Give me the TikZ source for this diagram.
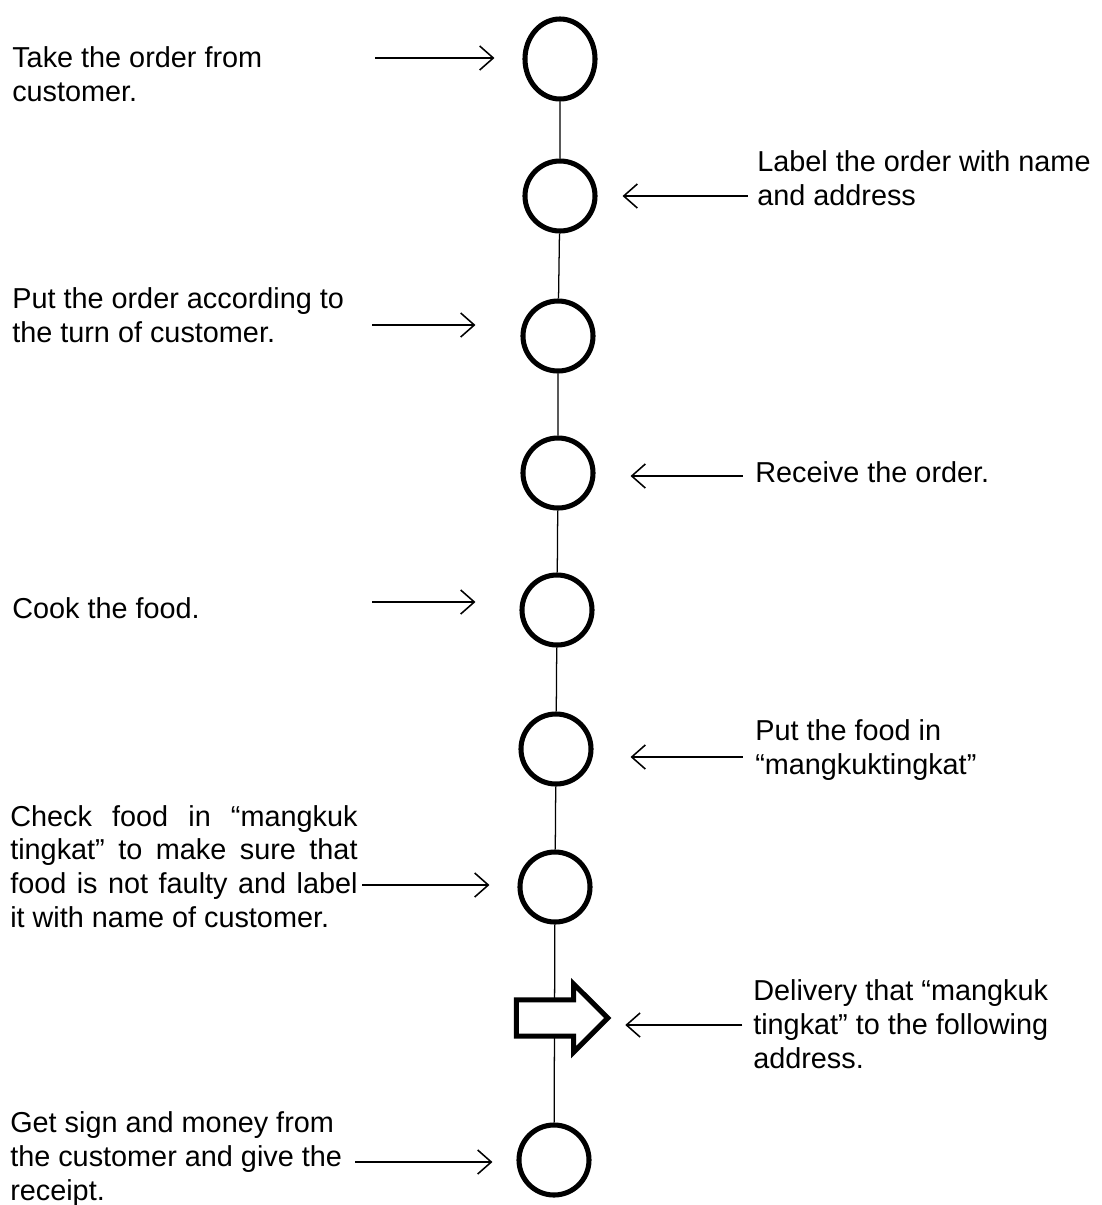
\documentclass[tikz,border=0pt]{standalone}
\usepackage{fontspec}
\setmainfont{Liberation Sans}
\usetikzlibrary{arrows.meta,shapes.geometric,shapes.arrows}
\tikzset{
  stop_/.style = {shape=ellipse, draw, line width=3.6pt, minimum width=1.75cm,
                  minimum height=1.75cm, inner sep=0pt},
  note_/.style = {anchor=base west, align=left, inner sep=0pt,
                  font=\fontsize{20.5}{24}\selectfont},
  flow_/.style = {draw, line width=1.1pt, -{Straight Barb[length=3.4mm,width=6mm]}}
}

\begin{document}
\begin{tikzpicture}
  [
    x           = 0.025cm,
    y           = -0.025cm,
    link_/.style = {draw, line width=0.9pt}
  ]
  \useasboundingbox (0,0) rectangle (1102,1205);

  % the steps
  \node [stop_, minimum height=2cm] (c1) at (560,59)   {};
  \node [stop_] (c2) at (560,196)  {};
  \node [stop_] (c3) at (558,336)  {};
  \node [stop_] (c4) at (558,473)  {};
  \node [stop_] (c5) at (557,610)  {};
  \node [stop_] (c6) at (556,749)  {};
  \node [stop_] (c7) at (555,887)  {};
  \node [stop_] (c9) at (554,1160) {};
  \draw [link_] (c1) -- (c2) -- (c3) -- (c4) -- (c5) -- (c6) -- (c7) -- (c9);
  \node [single arrow, draw, fill=white, line width=3.6pt, minimum height=2.28cm,
         minimum width=1.58cm, single arrow head extend=0.4cm,
         single arrow head indent=0pt, inner xsep=0pt, inner ysep=0.39cm] (del) at (553,1018) {};

  % left side
  \node [note_] (t1) at (12,101)  {Take the order from\\customer.};
  \node [note_] (t3) at (12,342)  {Put the order according to\\the turn of customer.};
  \node [note_] (t5) at (12,618)  {Cook the food.};
  \node [note_, text width=8.68cm, align=justify] (t7) at (10,826)
    {Check food in “mangkuk\linebreak tingkat” to make sure that\linebreak
     food is not faulty and label\linebreak it with name of customer.};
  \node [note_] (t9) at (10,1200) {Get sign and money from\\the customer and give the\\receipt.};

  % right side
  \node [note_] (t2) at (757,205)  {Label the order with name\\and address};
  \node [note_] (t4) at (755,482)  {Receive the order.};
  \node [note_] (t6) at (755,774)  {Put the food in\\“mangkuktingkat”};
  \node [note_] (t8) at (753,1068) {Delivery that “mangkuk\\tingkat” to the following\\address.};

  % arrows
  \draw [flow_] ([shift={(-147,-1)}]c1.west) -- ++(119,0);
  \draw [flow_] ([shift={(150,0)}]c2.east)   -- ++(-125,0);
  \draw [flow_] ([shift={(-148,-11)}]c3.west) -- ++(103,0);
  \draw [flow_] ([shift={(147,3)}]c4.east)   -- ++(-112,0);
  \draw [flow_] ([shift={(-147,-8)}]c5.west) -- ++(103,0);
  \draw [flow_] ([shift={(149,8)}]c6.east)   -- ++(-112,0);
  \draw [flow_] ([shift={(-155,-2)}]c7.west) -- ++(127,0);
  \draw [flow_] ([shift={(131,7)}]del.east)  -- ++(-117,0);
  \draw [flow_] ([shift={(-161,2)}]c9.west)  -- ++(137,0);
\end{tikzpicture}
\end{document}
